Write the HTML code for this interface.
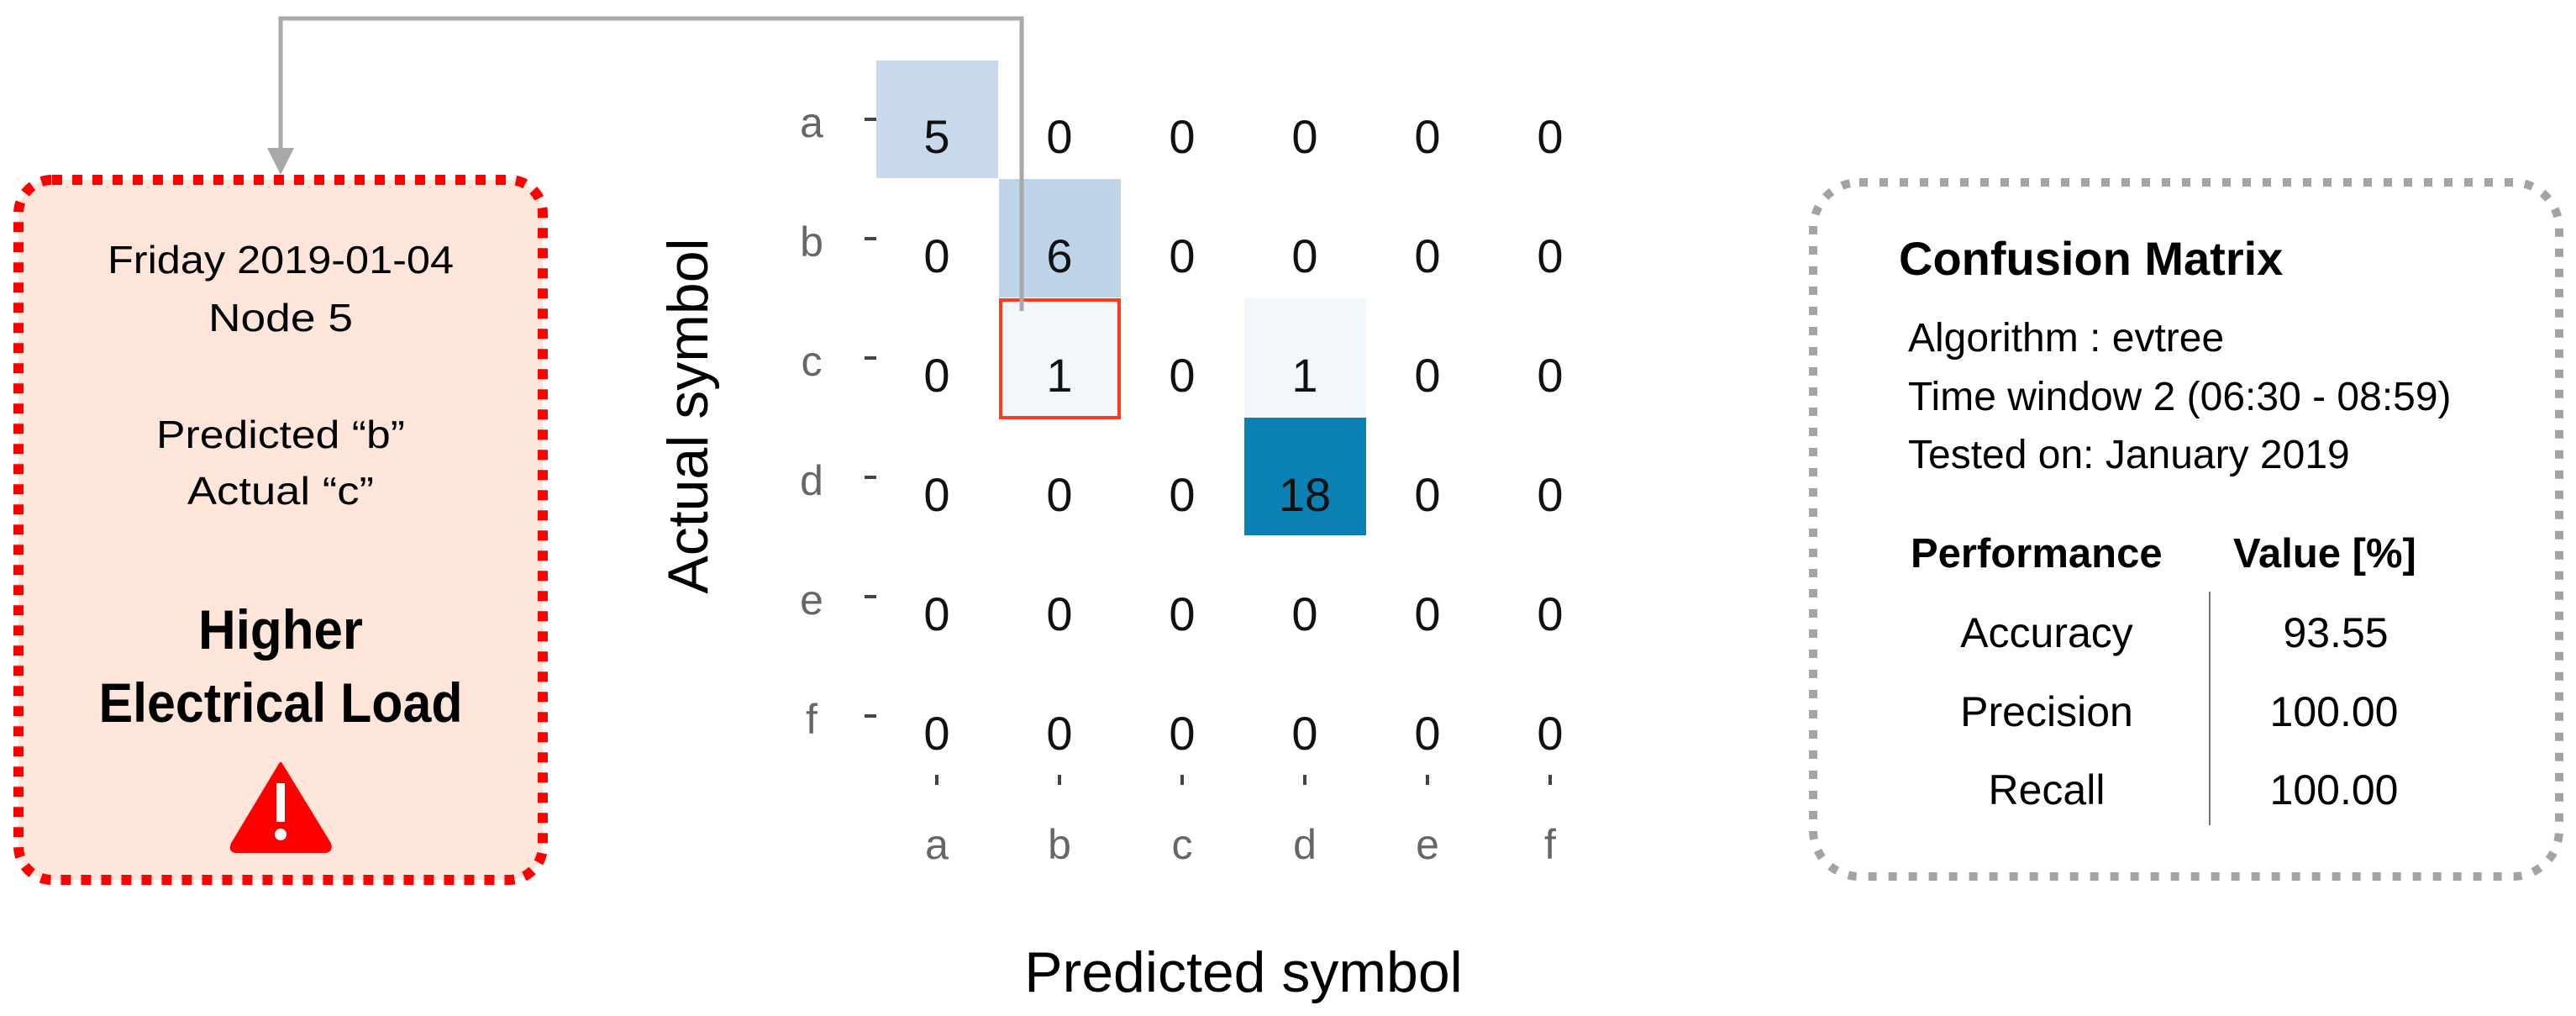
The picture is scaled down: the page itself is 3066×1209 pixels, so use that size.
<!DOCTYPE html>
<html><head><meta charset="utf-8"><style>
html,body{margin:0;padding:0;background:#fff;}
svg{display:block;}
</style></head><body>
<svg width="3066" height="1209" viewBox="0 0 3066 1209" xmlns="http://www.w3.org/2000/svg">
<!-- connector -->
<polyline points="1216,370 1216,22 334,22 334,180" fill="none" stroke="#a8a8a8" stroke-width="5"/>
<polygon points="318,176 350,176 334,208" fill="#a8a8a8"/>

<!-- left box -->
<rect x="22" y="214" width="624" height="833" rx="40" ry="40" fill="#fde5da" stroke="#ff0000" stroke-width="12" stroke-dasharray="12 12"/>
<g font-family="'Liberation Sans', sans-serif" text-anchor="middle" fill="#000">
<text x="334" y="325" font-size="46" textLength="412" lengthAdjust="spacingAndGlyphs">Friday 2019-01-04</text>
<text x="334" y="394" font-size="46" textLength="172" lengthAdjust="spacingAndGlyphs">Node 5</text>
<text x="334" y="533" font-size="46" textLength="296" lengthAdjust="spacingAndGlyphs">Predicted “b”</text>
<text x="334" y="600" font-size="46" textLength="222" lengthAdjust="spacingAndGlyphs">Actual “c”</text>
<text x="334" y="772" font-size="66" font-weight="bold" textLength="196" lengthAdjust="spacingAndGlyphs">Higher</text>
<text x="334" y="859" font-size="66" font-weight="bold" textLength="433" lengthAdjust="spacingAndGlyphs">Electrical Load</text>
</g>
<path d="M334,909 L392,1004 Q395,1013 386,1013 L282,1013 Q273,1013 277,1004 Z" fill="#ff0000" stroke="#ff0000" stroke-width="4" stroke-linejoin="round"/>
<rect x="329" y="932" width="10" height="46" fill="#fff"/>
<circle cx="334" cy="993" r="7" fill="#fff"/>

<!-- matrix cells -->
<rect x="1043" y="72" width="145" height="140" fill="#c7d9ea"/>
<rect x="1189" y="213" width="145" height="141" fill="#bdd3e8"/>
<rect x="1189" y="355" width="145" height="143" fill="#f2f7fb"/>
<rect x="1191" y="357" width="141" height="140" fill="none" stroke="#ff3a1e" stroke-width="4"/>
<rect x="1481" y="355" width="145" height="142" fill="#f2f7fb"/>
<rect x="1481" y="497" width="145" height="140" fill="#0a80b5"/>
<line x1="1216" y1="22" x2="1216" y2="370" stroke="#a8a8a8" stroke-width="5"/>

<g font-family="'Liberation Sans', sans-serif" font-size="56" text-anchor="middle" fill="#111">
<text x="1115" y="182">5</text><text x="1261" y="182">0</text><text x="1407" y="182">0</text><text x="1553" y="182">0</text><text x="1699" y="182">0</text><text x="1845" y="182">0</text>
<text x="1115" y="324">0</text><text x="1261" y="324">6</text><text x="1407" y="324">0</text><text x="1553" y="324">0</text><text x="1699" y="324">0</text><text x="1845" y="324">0</text>
<text x="1115" y="466">0</text><text x="1261" y="466">1</text><text x="1407" y="466">0</text><text x="1553" y="466">1</text><text x="1699" y="466">0</text><text x="1845" y="466">0</text>
<text x="1115" y="608">0</text><text x="1261" y="608">0</text><text x="1407" y="608">0</text><text x="1553" y="608">18</text><text x="1699" y="608">0</text><text x="1845" y="608">0</text>
<text x="1115" y="750">0</text><text x="1261" y="750">0</text><text x="1407" y="750">0</text><text x="1553" y="750">0</text><text x="1699" y="750">0</text><text x="1845" y="750">0</text>
<text x="1115" y="892">0</text><text x="1261" y="892">0</text><text x="1407" y="892">0</text><text x="1553" y="892">0</text><text x="1699" y="892">0</text><text x="1845" y="892">0</text>
</g>
<!-- row ticks -->
<g fill="#444">
<rect x="1029" y="140" width="14" height="4"/><rect x="1029" y="282" width="14" height="4"/><rect x="1029" y="424" width="14" height="4"/>
<rect x="1029" y="566" width="14" height="4"/><rect x="1029" y="708" width="14" height="4"/><rect x="1029" y="850" width="14" height="4"/>
<rect x="1113" y="922" width="4" height="12"/><rect x="1259" y="922" width="4" height="12"/><rect x="1405" y="922" width="4" height="12"/>
<rect x="1551" y="922" width="4" height="12"/><rect x="1697" y="922" width="4" height="12"/><rect x="1843" y="922" width="4" height="12"/>
</g>
<g font-family="'Liberation Sans', sans-serif" font-size="50" text-anchor="middle" fill="#666">
<text x="966" y="163">a</text><text x="966" y="305">b</text><text x="966" y="447">c</text><text x="966" y="589">d</text><text x="966" y="731">e</text><text x="966" y="873">f</text>
<text x="1115" y="1022">a</text><text x="1261" y="1022">b</text><text x="1407" y="1022">c</text><text x="1553" y="1022">d</text><text x="1699" y="1022">e</text><text x="1845" y="1022">f</text>
</g>
<text x="1480" y="1180" font-family="'Liberation Sans', sans-serif" font-size="68" text-anchor="middle" fill="#000">Predicted symbol</text>
<text transform="translate(842,495) rotate(-90)" x="0" y="0" font-family="'Liberation Sans', sans-serif" font-size="68" text-anchor="middle" fill="#000">Actual symbol</text>

<!-- right box -->
<rect x="2158" y="217" width="888" height="826" rx="55" ry="55" fill="#fff" stroke="#a3a3a3" stroke-width="10" stroke-dasharray="10 14"/>
<g font-family="'Liberation Sans', sans-serif" fill="#000">
<text x="2260" y="327" font-size="56" font-weight="bold">Confusion Matrix</text>
<text x="2271" y="418" font-size="48">Algorithm : evtree</text>
<text x="2271" y="488" font-size="48">Time window 2 (06:30 - 08:59)</text>
<text x="2271" y="557" font-size="48">Tested on: January 2019</text>
<text x="2274" y="675" font-size="49" font-weight="bold">Performance</text>
<text x="2658" y="675" font-size="49" font-weight="bold">Value [%]</text>
<g font-size="50" text-anchor="middle">
<text x="2436" y="770">Accuracy</text><text x="2780" y="770">93.55</text>
<text x="2436" y="864">Precision</text><text x="2778" y="864">100.00</text>
<text x="2436" y="957">Recall</text><text x="2778" y="957">100.00</text>
</g>
</g>
<line x1="2630" y1="704" x2="2630" y2="982" stroke="#777" stroke-width="2"/>
</svg>
</body></html>
